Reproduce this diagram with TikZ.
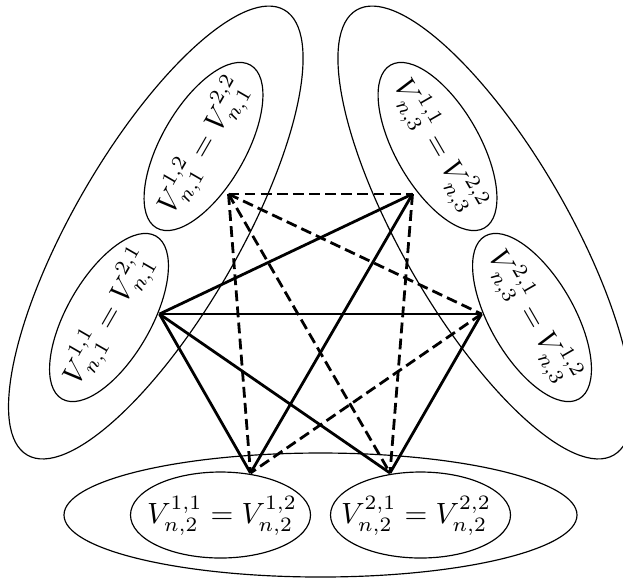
\documentclass[tikz,border=0pt]{standalone}
\begin{document}
\begin{tikzpicture}[x=0.012cm,y=0.012cm,
  blob/.style={draw,line width=0.4pt},
  solidedge/.style={line width=0.95pt},
  dashedge/.style={line width=0.95pt,dash pattern=on 3.7pt off 1.8pt},
  lbl/.style={inner sep=0pt}]
\useasboundingbox (0,0) rectangle (623,578);
% bottom group
\draw[blob] (320.5,63) ellipse [x radius=256.5, y radius=62];
\draw[blob] (220.5,63) ellipse [x radius=90, y radius=43];
\draw[blob] (420.5,63) ellipse [x radius=90, y radius=43];
% left group
\draw[blob,rotate around={60:(155.8,345.5)}] (155.8,345.5) ellipse [x radius=257, y radius=83];
\draw[blob,rotate around={60:(203.5,431.5)}] (203.5,431.5) ellipse [x radius=94, y radius=42];
\draw[blob,rotate around={60:(109,260.5)}] (109,260.5) ellipse [x radius=94, y radius=42];
% right group
\draw[blob,rotate around={-60:(485.2,345.5)}] (485.2,345.5) ellipse [x radius=257, y radius=83];
\draw[blob,rotate around={-60:(437.5,431.5)}] (437.5,431.5) ellipse [x radius=94, y radius=42];
\draw[blob,rotate around={-60:(532,260.5)}] (532,260.5) ellipse [x radius=94, y radius=42];
% labels
\node[lbl] (b1) at (222,62) {$V^{1,1}_{n,2}=V^{1,2}_{n,2}$};
\node[lbl] (b2) at (416,62) {$V^{2,1}_{n,2}=V^{2,2}_{n,2}$};
\node[lbl,rotate=60] (l1) at (203.5,431.5) {$V^{1,2}_{n,1}=V^{2,2}_{n,1}$};
\node[lbl,rotate=60] (l2) at (109,260.5) {$V^{1,1}_{n,1}=V^{2,1}_{n,1}$};
\node[lbl,rotate=-60] (r1) at (437.5,431.5) {$V^{1,1}_{n,3}=V^{2,2}_{n,3}$};
\node[lbl,rotate=-60] (r2) at (532,260.5) {$V^{2,1}_{n,3}=V^{1,2}_{n,3}$};
% vertices
\coordinate (A) at (159.5,264);
\coordinate (B) at (228.5,384);
\coordinate (C) at (412.5,384);
\coordinate (D) at (481.5,264);
\coordinate (E) at (250.5,105);
\coordinate (F) at (390,105);
% solid edges
\draw[solidedge] (A) -- (C);
\draw[solidedge] (A) -- (D);
\draw[solidedge] (A) -- (E);
\draw[solidedge] (A) -- (F);
\draw[solidedge] (C) -- (E);
\draw[solidedge] (D) -- (F);
% dashed edges
\draw[dashedge] (B) -- (C);
\draw[dashedge] (B) -- (D);
\draw[dashedge] (B) -- (E);
\draw[dashedge] (B) -- (F);
\draw[dashedge] (C) -- (F);
\draw[dashedge] (D) -- (E);
\end{tikzpicture}
\end{document}
